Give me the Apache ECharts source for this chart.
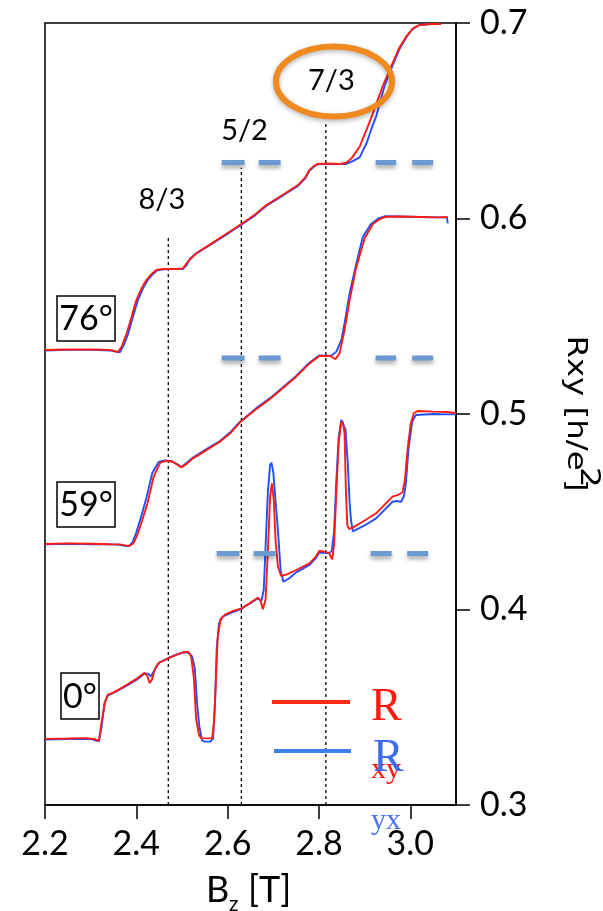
<!DOCTYPE html>
<html>
<head>
<meta charset="utf-8">
<script src="https://cdn.jsdelivr.net/npm/echarts@6/dist/echarts.min.js"></script>
<style>
  html, body { margin: 0; padding: 0; background: #fff; }
  #chart { width: 603px; height: 911px; }
</style>
</head>
<body>
<div id="chart"></div>
<script>
// --- 0 deg trace (red = Rxy, blue = Ryx) ---
const bz0xy = [2.200, 2.250, 2.290, 2.310, 2.318, 2.325, 2.332, 2.338, 2.349, 2.365, 2.380, 2.400, 2.418, 2.424, 2.429, 2.434, 2.440, 2.448, 2.470, 2.490, 2.503, 2.513, 2.520, 2.526, 2.531, 2.537, 2.542, 2.555, 2.566, 2.570, 2.574, 2.578, 2.584, 2.595, 2.610, 2.630, 2.648, 2.666, 2.672, 2.677, 2.683, 2.688, 2.693, 2.697, 2.701, 2.705, 2.710, 2.717, 2.730, 2.750, 2.779, 2.793, 2.801, 2.812, 2.822, 2.826, 2.829, 2.833, 2.838, 2.843, 2.848, 2.852, 2.856, 2.859, 2.862, 2.866, 2.875, 2.900, 2.925, 2.961, 2.975, 2.983, 2.988, 2.994, 3.001, 3.008, 3.016, 3.050, 3.080, 3.100];
const rxy0  = [0.3338, 0.3340, 0.3342, 0.3336, 0.3328, 0.3440, 0.3530, 0.3565, 0.3575, 0.3595, 0.3616, 0.3645, 0.3676, 0.3660, 0.3624, 0.3640, 0.3690, 0.3725, 0.3750, 0.3770, 0.3781, 0.3784, 0.3760, 0.3650, 0.3440, 0.3360, 0.3342, 0.3341, 0.3342, 0.3420, 0.3620, 0.3850, 0.3950, 0.3975, 0.3990, 0.4006, 0.4032, 0.4060, 0.4045, 0.4001, 0.4050, 0.4300, 0.4580, 0.4645, 0.4560, 0.4350, 0.4220, 0.4172, 0.4180, 0.4202, 0.4236, 0.4270, 0.4301, 0.4295, 0.4290, 0.4270, 0.4257, 0.4330, 0.4600, 0.4850, 0.4950, 0.4961, 0.4900, 0.4600, 0.4430, 0.4412, 0.4420, 0.4455, 0.4492, 0.4577, 0.4588, 0.4600, 0.4660, 0.4820, 0.4952, 0.5005, 0.5015, 0.5012, 0.5010, 0.5005];
const bz0yx = [2.200, 2.250, 2.300, 2.312, 2.318, 2.324, 2.330, 2.337, 2.349, 2.365, 2.380, 2.400, 2.418, 2.426, 2.432, 2.436, 2.442, 2.450, 2.470, 2.490, 2.503, 2.515, 2.522, 2.528, 2.533, 2.538, 2.544, 2.550, 2.562, 2.568, 2.572, 2.576, 2.581, 2.590, 2.610, 2.630, 2.648, 2.666, 2.674, 2.679, 2.683, 2.688, 2.693, 2.696, 2.700, 2.705, 2.710, 2.716, 2.722, 2.735, 2.750, 2.779, 2.793, 2.801, 2.812, 2.822, 2.828, 2.833, 2.838, 2.843, 2.849, 2.853, 2.858, 2.863, 2.867, 2.870, 2.874, 2.878, 2.900, 2.925, 2.961, 2.970, 2.980, 2.986, 2.990, 2.996, 3.004, 3.012, 3.050, 3.080, 3.100];
const ryx0  = [0.3335, 0.3337, 0.3338, 0.3330, 0.3326, 0.3400, 0.3520, 0.3560, 0.3572, 0.3592, 0.3612, 0.3640, 0.3672, 0.3672, 0.3658, 0.3660, 0.3700, 0.3728, 0.3752, 0.3772, 0.3780, 0.3780, 0.3760, 0.3700, 0.3520, 0.3400, 0.3330, 0.3324, 0.3324, 0.3340, 0.3500, 0.3800, 0.3930, 0.3965, 0.3985, 0.4003, 0.4030, 0.4057, 0.4045, 0.4100, 0.4321, 0.4600, 0.4740, 0.4751, 0.4700, 0.4550, 0.4407, 0.4200, 0.4142, 0.4160, 0.4190, 0.4228, 0.4262, 0.4291, 0.4290, 0.4288, 0.4300, 0.4400, 0.4662, 0.4880, 0.4970, 0.4973, 0.4920, 0.4750, 0.4550, 0.4458, 0.4400, 0.4393, 0.4430, 0.4466, 0.4551, 0.4555, 0.4551, 0.4580, 0.4640, 0.4820, 0.4960, 0.4995, 0.5000, 0.4998, 0.4998];

// --- 59 deg trace (shifted by +0.1) ---
const bz59xy = [2.200, 2.250, 2.300, 2.340, 2.364, 2.376, 2.386, 2.394, 2.402, 2.412, 2.424, 2.438, 2.452, 2.466, 2.480, 2.490, 2.499, 2.510, 2.524, 2.550, 2.583, 2.605, 2.626, 2.660, 2.692, 2.720, 2.750, 2.779, 2.801, 2.815, 2.825, 2.836, 2.845, 2.856, 2.867, 2.881, 2.900, 2.918, 2.935, 2.947, 2.980, 3.020, 3.060, 3.082];
const rxy59  = [0.4335, 0.4338, 0.4336, 0.4334, 0.4333, 0.4328, 0.4326, 0.4340, 0.4380, 0.4450, 0.4540, 0.4680, 0.4750, 0.4761, 0.4756, 0.4740, 0.4727, 0.4745, 0.4773, 0.4810, 0.4858, 0.4900, 0.4955, 0.5020, 0.5075, 0.5130, 0.5191, 0.5259, 0.5297, 0.5297, 0.5297, 0.5280, 0.5310, 0.5430, 0.5583, 0.5745, 0.5899, 0.5972, 0.6000, 0.6009, 0.6010, 0.6008, 0.6006, 0.6008];
const bz59yx = [2.200, 2.250, 2.300, 2.340, 2.360, 2.374, 2.384, 2.392, 2.400, 2.410, 2.422, 2.435, 2.449, 2.462, 2.478, 2.490, 2.499, 2.510, 2.524, 2.550, 2.583, 2.605, 2.626, 2.660, 2.692, 2.720, 2.750, 2.779, 2.801, 2.815, 2.828, 2.838, 2.849, 2.856, 2.867, 2.881, 2.896, 2.914, 2.930, 2.945, 2.980, 3.020, 3.060, 3.080, 3.082];
const ryx59  = [0.4333, 0.4336, 0.4334, 0.4333, 0.4332, 0.4326, 0.4325, 0.4345, 0.4395, 0.4470, 0.4570, 0.4700, 0.4755, 0.4763, 0.4758, 0.4742, 0.4730, 0.4750, 0.4777, 0.4815, 0.4862, 0.4905, 0.4958, 0.5025, 0.5080, 0.5135, 0.5195, 0.5262, 0.5300, 0.5298, 0.5300, 0.5319, 0.5378, 0.5464, 0.5617, 0.5762, 0.5907, 0.5972, 0.6000, 0.6012, 0.6010, 0.6008, 0.6006, 0.6006, 0.5975];

// --- 76 deg trace (shifted by +0.2) ---
const bz76xy = [2.200, 2.250, 2.300, 2.340, 2.352, 2.360, 2.368, 2.379, 2.390, 2.400, 2.412, 2.422, 2.433, 2.444, 2.460, 2.473, 2.490, 2.502, 2.515, 2.531, 2.560, 2.604, 2.630, 2.660, 2.685, 2.720, 2.754, 2.770, 2.779, 2.790, 2.797, 2.820, 2.845, 2.860, 2.872, 2.889, 2.905, 2.918, 2.939, 2.961, 2.975, 2.991, 3.005, 3.020, 3.045, 3.067];
const rxy76  = [0.5327, 0.5330, 0.5330, 0.5328, 0.5322, 0.5317, 0.5345, 0.5413, 0.5500, 0.5583, 0.5645, 0.5685, 0.5715, 0.5737, 0.5742, 0.5742, 0.5742, 0.5745, 0.5785, 0.5822, 0.5865, 0.5932, 0.5972, 0.6020, 0.6069, 0.6120, 0.6171, 0.6210, 0.6248, 0.6270, 0.6279, 0.6281, 0.6279, 0.6285, 0.6310, 0.6367, 0.6460, 0.6538, 0.6674, 0.6794, 0.6870, 0.6930, 0.6970, 0.6990, 0.6995, 0.6995];
const bz76yx = [2.200, 2.250, 2.300, 2.345, 2.358, 2.364, 2.372, 2.382, 2.393, 2.403, 2.414, 2.425, 2.436, 2.446, 2.460, 2.480, 2.502, 2.510, 2.518, 2.531, 2.560, 2.604, 2.630, 2.660, 2.685, 2.720, 2.754, 2.770, 2.779, 2.790, 2.797, 2.820, 2.845, 2.860, 2.875, 2.889, 2.905, 2.915, 2.925, 2.943, 2.963, 2.977, 2.992, 3.005, 3.020, 3.045, 3.067];
const ryx76  = [0.5325, 0.5328, 0.5328, 0.5325, 0.5318, 0.5315, 0.5350, 0.5410, 0.5500, 0.5580, 0.5640, 0.5685, 0.5715, 0.5735, 0.5740, 0.5741, 0.5742, 0.5760, 0.5795, 0.5820, 0.5862, 0.5928, 0.5968, 0.6016, 0.6065, 0.6116, 0.6167, 0.6206, 0.6244, 0.6267, 0.6277, 0.6279, 0.6278, 0.6279, 0.6295, 0.6313, 0.6390, 0.6460, 0.6521, 0.6674, 0.6794, 0.6870, 0.6930, 0.6970, 0.6990, 0.6995, 0.6995];

// filling factor guide lines and labels
const guideBz   = [2.470, 2.630, 2.815];
const guideTop  = [0.590, 0.626, 0.649];
const fracText  = ['8/3', '5/2', '7/3'];
const fracBz    = [2.456, 2.637, 2.827];
const fracR     = [0.6095, 0.6448, 0.6703];

// 7/3 plateau markers (3/7 h/e^2 plus trace offset)
const plateauR  = [0.4286, 0.5286, 0.6286];
const dashFrom  = [[2.576, 2.657, 2.913, 2.993], [2.587, 2.668, 2.924, 3.004], [2.587, 2.668, 2.924, 3.004]];
const dashTo    = [[2.626, 2.705, 2.959, 3.039], [2.637, 2.716, 2.969, 3.050], [2.637, 2.716, 2.969, 3.050]];

const xTicks = [2.2, 2.4, 2.6, 2.8, 3.0];

const RED = '#ff1a14';
const BLUE = '#1f4fff';
const FONT = 'Lato';

const pairs = (xs, ys) => xs.map((x, i) => [x, ys[i]]);

const traceLine = (data, color) => ({
  type: 'line',
  data: data,
  showSymbol: false,
  silent: true,
  lineStyle: { color: color, width: 1.9 },
  z: 3
});

let series = [
  traceLine(pairs(bz0yx, ryx0), BLUE),
  traceLine(pairs(bz0xy, rxy0), RED),
  traceLine(pairs(bz59yx, ryx59), BLUE),
  traceLine(pairs(bz59xy, rxy59), RED),
  traceLine(pairs(bz76yx, ryx76), BLUE),
  traceLine(pairs(bz76xy, rxy76), RED)
];

// dotted guides
guideBz.forEach((b, i) => {
  series.push({
    type: 'line',
    data: [[b, 0.3], [b, guideTop[i]]],
    showSymbol: false,
    silent: true,
    lineStyle: { color: '#000', width: 1.3, type: [3, 3] },
    z: 2
  });
});

// plateau dashes
plateauR.forEach((r, k) => {
  dashFrom[k].forEach((b0, j) => {
    series.push({
      type: 'line',
      data: [[b0, r], [dashTo[k][j], r]],
      showSymbol: false,
      silent: true,
      lineStyle: {
        color: '#6a9acf', width: 5, cap: 'butt',
        shadowColor: 'rgba(0,0,0,0.35)', shadowBlur: 4, shadowOffsetY: 3
      },
      z: 4
    });
  });
});

// fraction labels
series.push({
  type: 'scatter',
  symbolSize: 0,
  itemStyle: { color: '#000' },
  silent: true,
  data: fracText.map((t, i) => ({ name: t, value: [fracBz[i], fracR[i]] })),
  label: {
    show: true, position: 'inside', formatter: '{b}', opacity: 1,
    fontFamily: FONT, fontSize: 29, color: '#000'
  },
  z: 5
});

const angleBox = (txt, x, y, w, h) => ({
  type: 'group',
  children: [
    { type: 'rect', shape: { x: x, y: y, width: w, height: h },
      style: { fill: '#fff', stroke: '#000', lineWidth: 1.5 } },
    { type: 'text', x: x + w / 2, y: y + h / 2 + 1,
      style: { text: txt, font: '34px ' + FONT, fill: '#000', align: 'center', verticalAlign: 'middle' } }
  ],
  z: 10
});

// y title pieces measured so the raised 2 sits right after "e"
const YT_FONT = '27px "DejaVu Sans"';
const ctx = document.createElement('canvas').getContext('2d');
ctx.font = YT_FONT;
const w1 = ctx.measureText('Rxy [h/e').width;
const w3 = ctx.measureText(']').width;
const yLen = w1 + 7 + w3;

const chart = echarts.init(document.getElementById('chart'));
chart.setOption({
  animation: false,
  backgroundColor: '#fff',
  grid: { left: 45, right: 147, top: 23, bottom: 106, show: true, borderColor: '#000', borderWidth: 1.5 },
  xAxis: {
    type: 'value', min: 2.2, max: 3.1,
    axisLine: { lineStyle: { color: '#000', width: 1.5 } },
    axisTick: { customValues: xTicks, length: 14, lineStyle: { color: '#000', width: 1.5 } },
    axisLabel: { customValues: xTicks, margin: 22, fontFamily: FONT, fontSize: 34, color: '#000',
      formatter: v => v.toFixed(1) },
    splitLine: { show: false }
  },
  yAxis: {
    type: 'value', position: 'right', min: 0.3, max: 0.7, interval: 0.1,
    axisLine: { show: true, lineStyle: { color: '#000', width: 1.5 } },
    axisTick: { show: true, length: 14, lineStyle: { color: '#000', width: 1.5 } },
    axisLabel: { margin: 24, fontFamily: FONT, fontSize: 34, color: '#000',
      formatter: v => v.toFixed(1) },
    splitLine: { show: false }
  },
  series: series,
  graphic: [
    // 7/3 highlight ring
    { type: 'ellipse', shape: { cx: 334, cy: 81.5, rx: 58, ry: 35 },
      style: { fill: 'none', stroke: '#f0891e', lineWidth: 6,
        shadowColor: 'rgba(0,0,0,0.3)', shadowBlur: 5, shadowOffsetY: 2 }, z: 20 },
    angleBox('76°', 57, 296, 58, 45),
    angleBox('59°', 57, 482, 58, 45),
    angleBox('0°', 61, 673, 38, 46),
    // legend
    { type: 'line', shape: { x1: 272, y1: 702, x2: 350, y2: 702 }, style: { stroke: '#ff2a12', lineWidth: 4 }, z: 10 },
    { type: 'line', shape: { x1: 274, y1: 751, x2: 351, y2: 751 }, style: { stroke: '#3f7ff0', lineWidth: 4 }, z: 10 },
    { type: 'text', x: 371, y: 708, style: { text: 'R', font: '46px "Liberation Serif"', fill: '#ff1a10', verticalAlign: 'middle' }, z: 11 },
    { type: 'text', x: 371, y: 770, style: { text: 'xy', font: '30px "Liberation Serif"', fill: '#ff1a10', verticalAlign: 'middle' }, z: 11 },
    { type: 'text', x: 373, y: 759, style: { text: 'R', font: '46px "Liberation Serif"', fill: '#3d6bf0', verticalAlign: 'middle' }, z: 12 },
    { type: 'text', x: 371, y: 821, style: { text: 'yx', font: '30px "Liberation Serif"', fill: '#4c74f0', verticalAlign: 'middle' }, z: 12 },
    // x title
    { type: 'text', x: 206, y: 890, style: { text: 'B', font: '36px ' + FONT, fill: '#000', verticalAlign: 'middle' } },
    { type: 'text', x: 229, y: 904, style: { text: 'z', font: '21px ' + FONT, fill: '#000', verticalAlign: 'middle' } },
    { type: 'text', x: 248, y: 890, style: { text: '[T]', font: '36px ' + FONT, fill: '#000', verticalAlign: 'middle' } },
    // y title, reads top to bottom
    { type: 'group', x: 575, y: 413.5, rotation: -Math.PI / 2, scaleX: 1.2,
      children: [
        { type: 'text', x: -yLen / 2, y: 0,
          style: { text: 'Rxy [h/e', font: YT_FONT, fill: '#000', verticalAlign: 'middle' } },
        { type: 'text', x: -yLen / 2 + w1 - 3, y: -13,
          style: { text: '2', font: YT_FONT, fill: '#000', verticalAlign: 'middle' } },
        { type: 'text', x: -yLen / 2 + w1 + 7, y: 0,
          style: { text: ']', font: YT_FONT, fill: '#000', verticalAlign: 'middle' } }
      ] }
  ]
});
</script>
</body>
</html>
